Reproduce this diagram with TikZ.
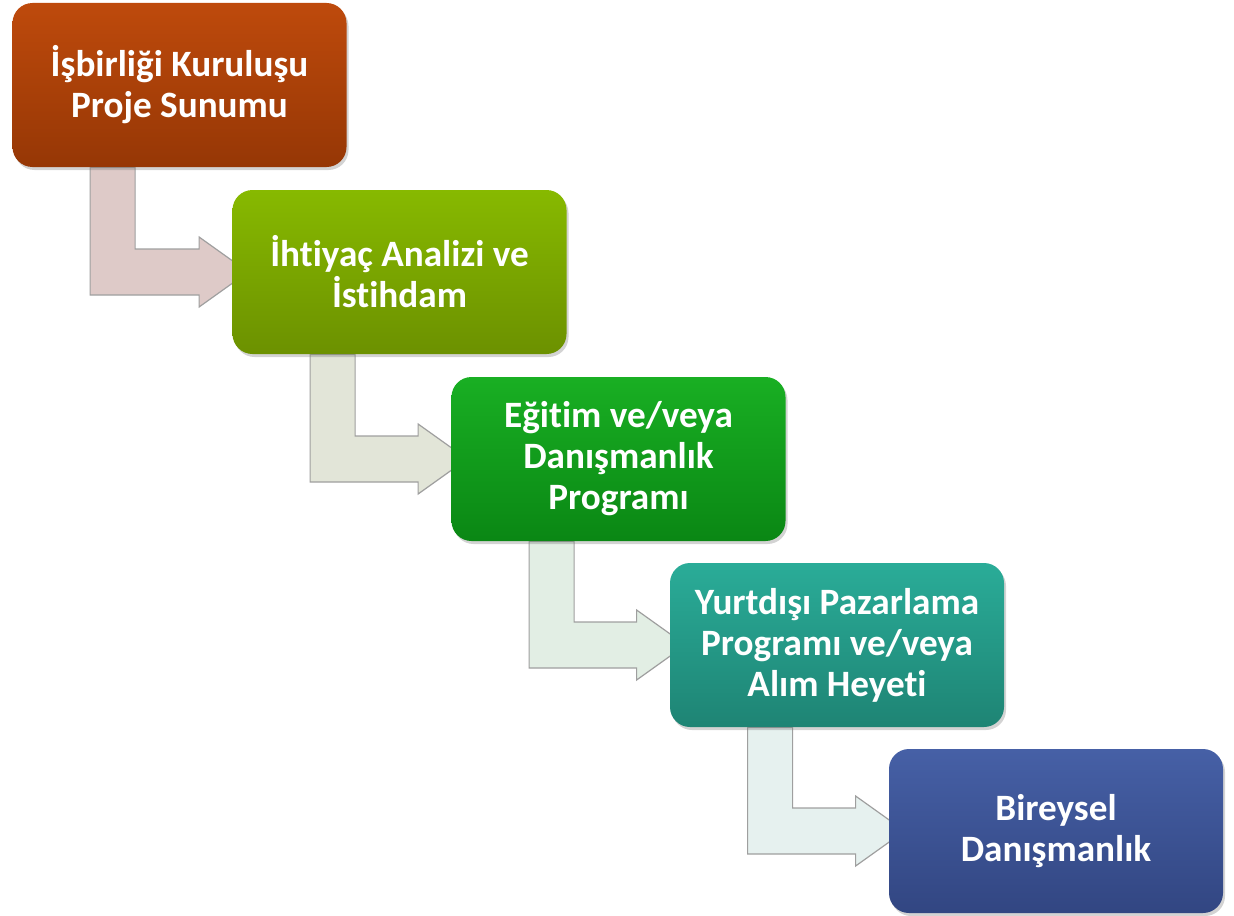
\documentclass[tikz,border=0pt]{standalone}
\usepackage{fontspec}
\setmainfont{Carlito}[Ligatures=NoCommon]
\usetikzlibrary{calc,shadows,backgrounds}

\definecolor{rustTop}{RGB}{190,74,12}
\definecolor{rustBot}{RGB}{150,55,5}
\definecolor{limeTop}{RGB}{135,185,0}
\definecolor{limeBot}{RGB}{108,145,0}
\definecolor{grnTop}{RGB}{25,175,35}
\definecolor{grnBot}{RGB}{10,135,20}
\definecolor{tealTop}{RGB}{42,172,152}
\definecolor{tealBot}{RGB}{30,132,116}
\definecolor{blueTop}{RGB}{70,96,166}
\definecolor{blueBot}{RGB}{50,70,130}
\definecolor{arrA}{RGB}{222,202,200}
\definecolor{arrB}{RGB}{226,229,216}
\definecolor{arrC}{RGB}{226,238,228}
\definecolor{arrD}{RGB}{230,241,239}

\tikzset{
  stepbox/.style={shape=rectangle, rounded corners=10pt, align=center,
    minimum width=167pt, minimum height=82pt, text=white,
    font=\bfseries\fontsize{18.6}{20.5}\selectfont,
    drop shadow={opacity=0.35, shadow xshift=1pt, shadow yshift=-1.5pt}},
  bent/.style={draw=gray!75, line width=0.6pt}
}

\begin{document}
\begin{tikzpicture}[x=0.5pt, y=-0.5pt]
  \useasboundingbox (0,0) rectangle (1234,915);

  \node[stepbox, top color=rustTop, bottom color=rustBot] (isbirligi) at (179.5,85)
    {İşbirliği Kuruluşu\\Proje Sunumu};
  \node[stepbox, top color=limeTop, bottom color=limeBot] (ihtiyac) at (399.5,272)
    {İhtiyaç Analizi ve\\İstihdam};
  \node[stepbox, top color=grnTop, bottom color=grnBot] (egitim) at (618.5,459)
    {Eğitim ve/veya\\Danışmanlık\\Programı};
  \node[stepbox, top color=tealTop, bottom color=tealBot] (yurtdisi) at (837,645)
    {Yurtdışı Pazarlama\\Programı ve/veya\\Alım Heyeti};
  \node[stepbox, top color=blueTop, bottom color=blueBot] (bireysel) at (1056,831)
    {Bireysel\\Danışmanlık};

  % bent arrows behind the boxes
  \begin{scope}[on background layer]
  \foreach \a/\b/\c in {isbirligi/ihtiyac/arrA, ihtiyac/egitim/arrB,
                        egitim/yurtdisi/arrC, yurtdisi/bireysel/arrD}
  {
    \draw[bent, fill=\c]
      let \p1 = (\a.south west), \p2 = (\b.west) in
      (\x1+39pt,\y1) -- (\x1+61.5pt,\y1) -- (\x1+61.5pt,\y2+11.5pt)
      -- (\x2-16.5pt,\y2+11.5pt) -- (\x2-16.5pt,\y2+17.5pt) -- (\x2+8pt,\y2)
      -- (\x2-16.5pt,\y2-17.5pt) -- (\x2-16.5pt,\y2-11.5pt)
      -- (\x1+39pt,\y2-11.5pt) -- cycle;
  }
  \end{scope}
\end{tikzpicture}
\end{document}
